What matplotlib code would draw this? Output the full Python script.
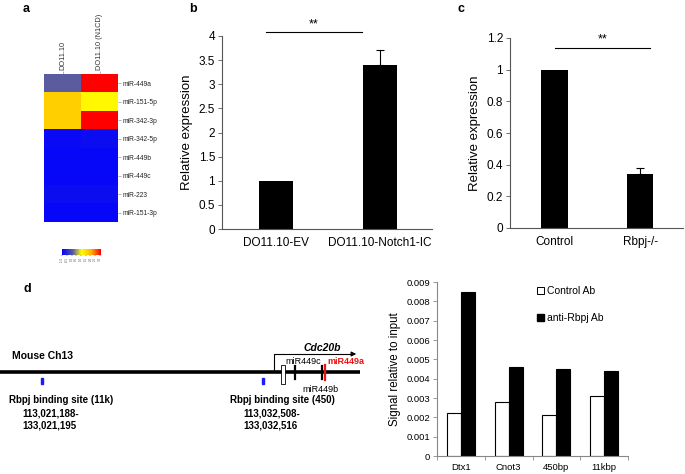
import numpy as np
import matplotlib
matplotlib.use("Agg")
import matplotlib.pyplot as plt
from matplotlib.colors import LinearSegmentedColormap
from matplotlib.patches import Patch, Rectangle

plt.rcParams['font.family'] = ['Liberation Sans', 'DejaVu Sans']

W, H = 685, 474

# --- panel a: heatmap
heat_cols = ["DO11.10", "DO11.10 (N1CD)"]
heat_rows = ["miR-449a", "miR-151-5p", "miR-342-3p", "miR-342-5p",
             "miR-449b", "miR-449c", "miR-223", "miR-151-3p"]
heat_vals = np.array([[0.28, 1.00],
                      [0.66, 0.52],
                      [0.66, 1.00],
                      [0.03, 0.04],
                      [0.02, 0.02],
                      [0.02, 0.02],
                      [0.04, 0.04],
                      [0.02, 0.02]])
cbar_ticks = ["-1.0", "-0.5", "0.0", "0.5", "1.0", "1.5", "2.0", "2.5", "3.0"]

# --- panel b
b_groups = ["DO11.10-EV", "DO11.10-Notch1-IC"]
b_vals = [1.0, 3.4]
b_err = [0.0, 0.3]

# --- panel c
c_groups = ["Control", "Rbpj-/-"]
c_vals = [1.0, 0.34]
c_err = [0.0, 0.04]

# --- panel e: ChIP
e_groups = ["Dtx1", "Cnot3", "450bp", "11kbp"]
e_control = [0.0022, 0.0028, 0.0021, 0.0031]
e_rbpj = [0.0085, 0.0046, 0.0045, 0.0044]

# --- panel d: locus schematic (diagram units)
bind_sites = [42, 263]
bind_names = ["Rbpj binding site (11k)", "Rbpj binding site (450)"]
bind_coords = [["113,021,188-", "133,021,195"], ["113,032,508-", "133,032,516"]]
tss = 274
exon = 281
mir_c, mir_b, mir_a = 295, 322, 325


def ax_px(x0, y0, x1, y1):
    return fig.add_axes([x0 / W, 1 - y1 / H, (x1 - x0) / W, (y1 - y0) / H])


fig = plt.figure(figsize=(W / 100, H / 100), dpi=100)

# ---------------- a
cmap = LinearSegmentedColormap.from_list(
    "hm", [(0, "#0000ff"), (0.28, "#5c5ca0"), (0.5, "#ffff00"),
           (0.75, "#ffb400"), (1, "#ff0000")])
ax = ax_px(44, 74, 118, 222)
ax.imshow(heat_vals, cmap=cmap, vmin=0, vmax=1, aspect="auto",
          interpolation="nearest")
ax.xaxis.tick_top()
ax.set_xticks(range(len(heat_cols)))
ax.set_xticklabels(heat_cols, rotation=90, fontsize=5.3, color="#333333")
ax.yaxis.tick_right()
ax.set_yticks(range(len(heat_rows)))
ax.set_yticklabels(heat_rows, fontsize=4.8, color="#222222")
ax.tick_params(length=2, width=0.4, color="#777777", pad=1)
for s in ax.spines.values():
    s.set_visible(False)

cax = ax_px(62, 249, 100, 255)
cax.imshow(np.linspace(0, 1, 200)[None, :], cmap=cmap, aspect="auto")
cax.set_yticks([])
cax.set_xticks(np.linspace(0, 199, len(cbar_ticks)))
cax.set_xticklabels(cbar_ticks, rotation=90, fontsize=2.2, color="#555555")
cax.tick_params(length=1, width=0.3, pad=0.5)
for s in cax.spines.values():
    s.set_visible(False)

fig.text(23 / W, 1 - 12 / H, "a", fontsize=9, fontweight="bold")
fig.text(189 / W, 1 - 12 / H, "b", fontsize=9, fontweight="bold")
fig.text(458 / W, 1 - 12 / H, "c", fontsize=9, fontweight="bold")
fig.text(23 / W, 1 - 292 / H, "d", fontsize=9, fontweight="bold")


def style_bar_ax(ax):
    for s in ["top", "right"]:
        ax.spines[s].set_visible(False)
    for s in ["left", "bottom"]:
        ax.spines[s].set_color("#555555")
        ax.spines[s].set_linewidth(0.8)
    ax.tick_params(axis="y", length=3, width=0.6, color="#555555",
                   labelsize=8.5, pad=2)
    ax.tick_params(axis="x", length=0, labelsize=8.5, pad=6)


# ---------------- b
ax = ax_px(222, 36, 432, 229)
ax.bar(range(2), b_vals, width=0.33, color="black")
ax.errorbar([1], [b_vals[1]], yerr=[[0], [b_err[1]]], fmt="none",
            ecolor="black", elinewidth=0.8, capsize=3, capthick=0.8)
ax.set_xlim(-0.52, 1.5)
ax.set_ylim(0, 4)
ax.set_yticks(np.arange(0, 4.01, 0.5))
ax.set_yticklabels(["0", "0.5", "1", "1.5", "2", "2.5", "3", "3.5", "4"])
ax.set_xticks(range(2))
ax.set_xticklabels(b_groups)
ax.set_ylabel("Relative expression", fontsize=9.5, labelpad=4)
style_bar_ax(ax)
ax.plot([-0.1, 0.83], [4.08, 4.08], color="black", lw=0.8, clip_on=False)
ax.text(0.36, 4.12, "**", ha="center", va="bottom", fontsize=9)

# ---------------- c
ax = ax_px(510, 38, 683, 228)
ax.bar(range(2), c_vals, width=0.31, color="black")
ax.errorbar([1], [c_vals[1]], yerr=[[0], [c_err[1]]], fmt="none",
            ecolor="black", elinewidth=0.8, capsize=3, capthick=0.8)
ax.set_xlim(-0.52, 1.5)
ax.set_ylim(0, 1.2)
ax.set_yticks(np.arange(0, 1.21, 0.2))
ax.set_yticklabels(["0", "0.2", "0.4", "0.6", "0.8", "1", "1.2"])
ax.set_xticks(range(2))
ax.set_xticklabels(c_groups)
ax.set_ylabel("Relative expression", fontsize=9.5, labelpad=4)
style_bar_ax(ax)
ax.plot([0.0, 1.12], [1.137, 1.137], color="black", lw=0.8, clip_on=False)
ax.text(0.56, 1.15, "**", ha="center", va="bottom", fontsize=9)

# ---------------- d
ax = ax_px(0, 330, 360, 440)
ax.set_xlim(0, 360)
ax.set_ylim(440, 330)
ax.axis("off")
ax.plot([0, 360], [372, 372], color="black", lw=2.6, solid_capstyle="butt")
ax.text(12, 356, "Mouse Ch13", fontsize=7.5, fontweight="bold", va="center")
for x, name, crd in zip(bind_sites, bind_names, bind_coords):
    ax.add_patch(Rectangle((x - 1.2, 378), 2.4, 6, color="#1a1aff"))
    ax.text(x - 33, 400, name, fontsize=7, fontweight="bold", va="center")
    ax.text(x - 20, 413, crd[0], fontsize=7, fontweight="bold", va="center")
    ax.text(x - 20, 425, crd[1], fontsize=7, fontweight="bold", va="center")
ax.plot([tss, tss, 352], [372, 354, 354], color="black", lw=0.8)
ax.annotate("", xy=(359, 354), xytext=(350, 354),
            arrowprops=dict(arrowstyle="-|>", color="black", lw=0.8,
                            mutation_scale=7))
ax.text(322, 348, "Cdc20b", fontsize=7.5, fontweight="bold",
        fontstyle="italic", ha="center", va="center")
ax.add_patch(Rectangle((exon, 365), 3.5, 19, facecolor="white",
                       edgecolor="black", lw=0.6, zorder=3))
ax.plot([mir_c, mir_c], [366, 379], color="black", lw=1.6, zorder=3)
ax.plot([mir_b, mir_b], [366, 379], color="black", lw=1.6, zorder=3)
ax.plot([mir_a, mir_a], [365, 380], color="#ee1111", lw=1.6, zorder=3)
ax.text(285, 362, "miR449c", fontsize=6.5, va="center")
ax.text(327, 362, "miR449a", fontsize=6.5, va="center", color="#ee1111",
        fontweight="bold")
ax.text(302, 389, "miR449b", fontsize=6.5, va="center")

# ---------------- e
ax = ax_px(437, 282, 628, 456)
x = np.arange(len(e_groups))
bw = 0.293
ax.bar(x - bw / 2, e_control, width=bw, facecolor="white",
       edgecolor="black", lw=0.8, label="Control Ab")
ax.bar(x + bw / 2, e_rbpj, width=bw, color="black", edgecolor="black",
       lw=0.8, label="anti-Rbpj Ab")
ax.set_xlim(-0.5, 3.5)
ax.set_ylim(0, 0.009)
ax.set_yticks(np.arange(0, 0.00901, 0.001))
ax.set_yticklabels(["0"] + ["%.3f" % v for v in np.arange(0.001, 0.00901, 0.001)])
ax.set_xticks(x)
ax.set_xticklabels(e_groups)
ax.set_xticks(np.arange(-0.5, 3.6, 1), minor=True)
for s in ["top", "right"]:
    ax.spines[s].set_visible(False)
for s in ["left", "bottom"]:
    ax.spines[s].set_color("#888888")
    ax.spines[s].set_linewidth(0.8)
ax.tick_params(axis="y", length=3, width=0.6, color="#888888",
               labelsize=6.8, pad=2)
ax.tick_params(axis="x", which="major", length=0, labelsize=6.8, pad=5)
ax.tick_params(axis="x", which="minor", length=3, width=0.6, color="#888888")
ax.set_ylabel("Signal relative to input", fontsize=8.3, labelpad=4)
ax.legend(handles=[Patch(facecolor="white", edgecolor="black", lw=0.7),
                   Patch(facecolor="black", edgecolor="black")],
          labels=["Control Ab", "anti-Rbpj Ab"], frameon=False,
          fontsize=7.5, loc="upper left", bbox_to_anchor=(0.5, 1.0),
          handlelength=0.7, handleheight=0.7, handletextpad=0.3,
          labelspacing=1.6, borderaxespad=0)

fig.savefig("out.png", dpi=100)
